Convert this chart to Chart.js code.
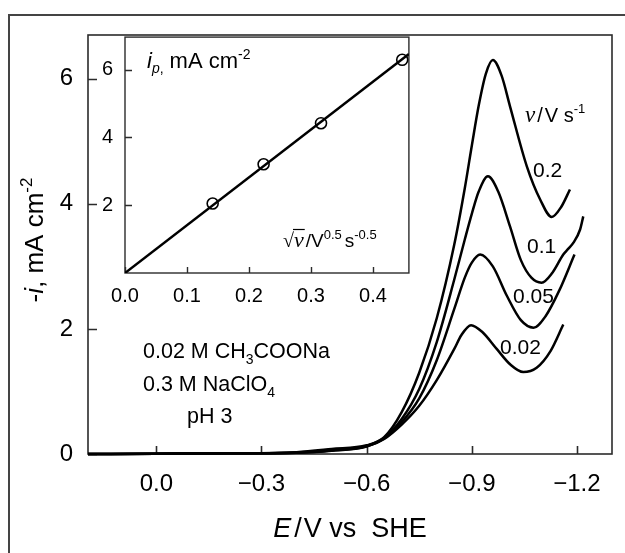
<!DOCTYPE html>
<html>
<head>
<meta charset="utf-8">
<title>Linear sweep voltammograms</title>
<script src="https://cdn.jsdelivr.net/npm/chart.js@4.4.0/dist/chart.umd.min.js"></script>
<style>
  html, body { margin: 0; padding: 0; background: #fff; }
  #wrap { position: relative; width: 625px; height: 553px; overflow: hidden; }
  #main { position: absolute; left: 0; top: 0; }
  #inset { position: absolute; left: 96px; top: 30px; }
</style>
</head>
<body>
<div id="wrap">
  <canvas id="main" width="625" height="553"></canvas>
  <canvas id="inset" width="320" height="275"></canvas>
</div>
<script>
// sweeps at 0.02, 0.05, 0.1 and 0.2 V/s : potential (V vs SHE) and -i (mA cm-2)
const potential002 = [0.195, 0.0, -0.2, -0.4, -0.5, -0.6, -0.65, -0.70, -0.75, -0.80, -0.85, -0.87, -0.898, -0.93, -0.971, -1.01, -1.047, -1.085, -1.125, -1.161];
const current002   = [0, 0.005, 0.01, 0.02, 0.05, 0.12, 0.24, 0.47, 0.77, 1.18, 1.68, 1.9, 2.06, 1.95, 1.68, 1.43, 1.31, 1.38, 1.65, 2.07];

const potential005 = [0.195, 0.0, -0.2, -0.4, -0.5, -0.6, -0.65, -0.70, -0.75, -0.80, -0.85, -0.88, -0.90, -0.924, -0.96, -1.0, -1.04, -1.076, -1.11, -1.15, -1.193];
const current005   = [0, 0.005, 0.01, 0.02, 0.055, 0.125, 0.25, 0.51, 0.89, 1.5, 2.32, 2.82, 3.06, 3.19, 3.0, 2.53, 2.14, 2.02, 2.2, 2.62, 3.19];

const potential01 = [0.195, 0.0, -0.2, -0.4, -0.5, -0.6, -0.65, -0.70, -0.75, -0.80, -0.85, -0.88, -0.90, -0.92, -0.946, -0.975, -1.009, -1.04, -1.07, -1.099, -1.13, -1.161, -1.175, -1.19, -1.209, -1.218];
const current01   = [0, 0.005, 0.01, 0.025, 0.06, 0.13, 0.26, 0.56, 1.04, 1.79, 2.79, 3.43, 3.84, 4.2, 4.44, 4.2, 3.64, 3.1, 2.82, 2.74, 2.9, 3.19, 3.28, 3.38, 3.59, 3.8];

const potential02 = [0.195, 0.0, -0.2, -0.4, -0.5, -0.6, -0.65, -0.70, -0.75, -0.80, -0.85, -0.88, -0.90, -0.92, -0.94, -0.96, -0.985, -1.009, -1.057, -1.095, -1.128, -1.155, -1.18];
const current02   = [0, 0.005, 0.01, 0.03, 0.08, 0.14, 0.27, 0.67, 1.3, 2.17, 3.35, 4.25, 4.93, 5.58, 6.08, 6.3, 6.05, 5.56, 4.6, 4.07, 3.79, 3.95, 4.23];

const rateLabels = ['0.02', '0.05', '0.1', '0.2'];
const xTickValues = [0, -0.3, -0.6, -0.9, -1.2];
const yTickValues = [0, 2, 4, 6];

// inset: peak current against square root of scan rate
const scanRates = [0.02, 0.05, 0.1, 0.2];
const peakCurrents = [2.05, 3.21, 4.42, 6.29];
const fitRoot = [0, 0.458];
const fitCurrent = [0, 6.46];
const insetXTicks = [0, 0.1, 0.2, 0.3, 0.4];
const insetYTicks = [2, 4, 6];

const SANS = '"Liberation Sans", Arial, sans-serif';
const SERIF = '"Liberation Serif", "Times New Roman", serif';

function pairs(xs, ys) {
  return xs.map((x, i) => ({x: x, y: ys[i]}));
}

// draw a row of text pieces: [text, font, dy, gapAfter]
function drawRuns(ctx, runs, x, y, align) {
  let w = 0;
  runs.forEach(r => { ctx.font = r[1]; w += ctx.measureText(r[0]).width + (r[3] || 0); });
  let cx = align === 'center' ? x - w / 2 : x;
  const spans = [];
  runs.forEach(r => {
    ctx.font = r[1];
    ctx.fillText(r[0], cx, y + (r[2] || 0));
    const rw = ctx.measureText(r[0]).width;
    spans.push([cx, cx + rw]);
    cx += rw + (r[3] || 0);
  });
  return spans;
}

// keep the plot area exactly where the layout padding puts it
function noScalePadding(s) {
  s.paddingTop = 0;
  s.paddingBottom = 0;
  s.paddingLeft = 0;
  s.paddingRight = 0;
}

// plot box plus inward tick marks
const boxTicks = {
  id: 'boxTicks',
  beforeDatasetsDraw(chart, args, opts) {
    const {ctx, chartArea: a, scales: {x, y}} = chart;
    ctx.save();
    ctx.strokeStyle = '#2b2b2b';
    ctx.lineWidth = opts.width;
    ctx.strokeRect(a.left, a.top, a.right - a.left, a.bottom - a.top);
    ctx.beginPath();
    x.ticks.forEach(t => {
      const px = Math.round(x.getPixelForValue(t.value)) + 0.5;
      ctx.moveTo(px, a.bottom);
      ctx.lineTo(px, a.bottom - opts.xLen);
    });
    y.ticks.forEach(t => {
      const py = Math.round(y.getPixelForValue(t.value)) + 0.5;
      ctx.moveTo(a.left, py);
      ctx.lineTo(a.left + opts.yLen, py);
    });
    ctx.stroke();
    ctx.restore();
  }
};

const mainText = {
  id: 'mainText',
  afterDraw(chart) {
    const ctx = chart.ctx;
    ctx.save();
    // outer frame
    ctx.strokeStyle = '#444';
    ctx.lineWidth = 2;
    ctx.beginPath();
    ctx.moveTo(9, 560);
    ctx.lineTo(9, 15);
    ctx.lineTo(640, 15);
    ctx.stroke();

    ctx.fillStyle = '#000';
    ctx.textBaseline = 'alphabetic';

    // y axis title
    ctx.save();
    ctx.translate(43, 240);
    ctx.rotate(-Math.PI / 2);
    drawRuns(ctx, [
      ['-', '26px ' + SANS],
      ['i', 'italic 26px ' + SANS],
      [', mA cm', '26px ' + SANS],
      ['-2', '17px ' + SANS, -11]
    ], 0, 0, 'center');
    ctx.restore();

    // x axis title
    drawRuns(ctx, [
      ['E', 'italic 27px ' + SANS, 0, 3],
      ['/', '27px ' + SANS, 0, 2],
      ['V vs  SHE', '27px ' + SANS]
    ], 350, 537, 'center');

    // scan-rate header and labels
    drawRuns(ctx, [
      ['v', 'italic 23px ' + SERIF, 0, 2],
      ['/', '20px ' + SANS, 0, 2],
      ['V s', '20px ' + SANS],
      ['-1', '13px ' + SANS, -9]
    ], 525, 122, 'left');
    ctx.font = '21px ' + SANS;
    ctx.fillText(rateLabels[3], 533, 177);
    ctx.fillText(rateLabels[2], 527, 253);
    ctx.fillText(rateLabels[1], 513, 303);
    ctx.fillText(rateLabels[0], 500, 354);

    // electrolyte composition
    drawRuns(ctx, [
      ['0.02 M CH', '21.5px ' + SANS],
      ['3', '14px ' + SANS, 6],
      ['COONa', '21.5px ' + SANS]
    ], 143, 358, 'left');
    drawRuns(ctx, [
      ['0.3 M NaClO', '21.5px ' + SANS],
      ['4', '14px ' + SANS, 6]
    ], 143, 391, 'left');
    ctx.font = '21.5px ' + SANS;
    ctx.fillText('pH 3', 187, 423);
    ctx.restore();
  }
};

const insetText = {
  id: 'insetText',
  afterDraw(chart) {
    const ctx = chart.ctx;
    ctx.save();
    ctx.fillStyle = '#000';
    ctx.textBaseline = 'alphabetic';
    drawRuns(ctx, [
      ['i', 'italic 22px ' + SANS, 0, 0],
      ['p', 'italic 14px ' + SANS, 5],
      [',', '14px ' + SANS, 5, 6],
      ['mA cm', '22px ' + SANS],
      ['-2', '14px ' + SANS, -9]
    ], 51, 38, 'left');

    const spans = drawRuns(ctx, [
      ['\u221A', '20px ' + SERIF, 0, 0],
      ['v', 'italic 22px ' + SERIF, 0, 2],
      ['/V', '19px ' + SANS],
      ['0.5', '13px ' + SANS, -8, 3],
      ['s', '19px ' + SANS],
      ['-0.5', '13px ' + SANS, -8]
    ], 187, 217, 'left');
    // bar over the radicand
    ctx.strokeStyle = '#000';
    ctx.lineWidth = 1.2;
    ctx.beginPath();
    ctx.moveTo(spans[0][1] - 1, 217 - 17.5);
    ctx.lineTo(spans[1][1] + 1, 217 - 17.5);
    ctx.stroke();
    ctx.restore();
  }
};

function fmtAxis(v) {
  return v.toFixed(1).replace('-', '\u2212');
}

const curveStyle = {
  borderColor: '#000',
  borderWidth: 2.5,
  pointRadius: 0,
  fill: false,
  cubicInterpolationMode: 'monotone',
  clip: false
};

new Chart(document.getElementById('main'), {
  type: 'line',
  data: {
    datasets: [
      Object.assign({label: rateLabels[0], data: pairs(potential002, current002)}, curveStyle),
      Object.assign({label: rateLabels[1], data: pairs(potential005, current005)}, curveStyle),
      Object.assign({label: rateLabels[2], data: pairs(potential01, current01)}, curveStyle),
      Object.assign({label: rateLabels[3], data: pairs(potential02, current02)}, curveStyle)
    ]
  },
  options: {
    responsive: false,
    animation: false,
    devicePixelRatio: 1,
    layout: {padding: {top: 35, right: 13, left: 0, bottom: 0}},
    plugins: {
      legend: {display: false},
      tooltip: {enabled: false},
      boxTicks: {width: 1.6, xLen: 8, yLen: 9}
    },
    scales: {
      x: {
        type: 'linear',
        reverse: true,
        min: -1.3,
        max: 0.195,
        grid: {display: false, drawTicks: false},
        border: {display: false},
        ticks: {
          color: '#000',
          font: {family: SANS, size: 24},
          padding: 16,
          maxRotation: 0,
          autoSkip: false,
          callback: v => fmtAxis(v)
        },
        afterBuildTicks: s => { s.ticks = xTickValues.map(v => ({value: v})); },
        afterFit: s => { s.height = 99; noScalePadding(s); }
      },
      y: {
        type: 'linear',
        min: 0,
        max: 6.7,
        grid: {display: false, drawTicks: false},
        border: {display: false},
        ticks: {
          color: '#000',
          font: {family: SANS, size: 24},
          padding: 15,
          autoSkip: false,
          callback: v => String(v)
        },
        afterBuildTicks: s => { s.ticks = yTickValues.map(v => ({value: v})); },
        afterFit: s => { s.width = 88; noScalePadding(s); }
      }
    }
  },
  plugins: [boxTicks, mainText]
});

new Chart(document.getElementById('inset'), {
  type: 'line',
  data: {
    datasets: [
      {
        label: 'fit',
        data: pairs(fitRoot, fitCurrent),
        borderColor: '#000',
        borderWidth: 2.5,
        pointRadius: 0,
        fill: false
      },
      {
        label: 'peak current',
        data: pairs(scanRates.map(v => Math.sqrt(v)), peakCurrents),
        showLine: false,
        pointRadius: 5.5,
        pointBackgroundColor: '#fff',
        pointBorderColor: '#000',
        pointBorderWidth: 1.6
      }
    ]
  },
  options: {
    responsive: false,
    animation: false,
    devicePixelRatio: 1,
    layout: {padding: {top: 5, right: 6, left: 0, bottom: 0}},
    plugins: {
      legend: {display: false},
      tooltip: {enabled: false},
      boxTicks: {width: 1.4, xLen: 6, yLen: 7}
    },
    scales: {
      x: {
        type: 'linear',
        min: 0,
        max: 0.458,
        grid: {display: false, drawTicks: false},
        border: {display: false},
        ticks: {
          color: '#000',
          font: {family: SANS, size: 20},
          padding: 11,
          maxRotation: 0,
          autoSkip: false,
          callback: v => v.toFixed(1)
        },
        afterBuildTicks: s => { s.ticks = insetXTicks.map(v => ({value: v})); },
        afterFit: s => { s.height = 32; noScalePadding(s); }
      },
      y: {
        type: 'linear',
        min: 0,
        max: 6.96,
        grid: {display: false, drawTicks: false},
        border: {display: false},
        ticks: {
          color: '#000',
          font: {family: SANS, size: 20},
          padding: 12,
          autoSkip: false,
          callback: v => String(v)
        },
        afterBuildTicks: s => { s.ticks = insetYTicks.map(v => ({value: v})); },
        afterFit: s => { s.width = 29; noScalePadding(s); }
      }
    }
  },
  plugins: [boxTicks, insetText]
});
</script>
</body>
</html>
